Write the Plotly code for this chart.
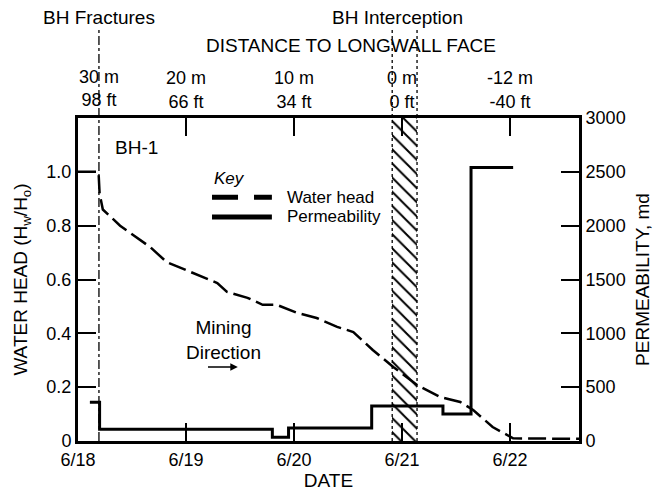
import plotly.graph_objects as go

# ---- data (days after 6/18) ----
head_days = [0.0, 0.19, 0.20, 0.23, 0.39, 0.60, 0.67, 0.82, 1.07, 1.29, 1.38, 1.57,
             1.71, 1.84, 2.03, 2.21, 2.40, 2.55, 2.73, 2.92, 3.14, 3.35, 3.54, 3.66,
             3.84, 4.03, 4.64]
head_vals = [1.0, 1.0, 0.92, 0.86, 0.80, 0.74, 0.72, 0.665, 0.625, 0.587, 0.554, 0.532,
             0.506, 0.506, 0.476, 0.457, 0.424, 0.405, 0.338, 0.275, 0.208, 0.164, 0.145, 0.115,
             0.052, 0.01, 0.008]

perm_days = [0.11, 0.20, 1.80, 1.95, 2.72, 3.38, 3.64, 4.03]
perm_vals = [360, 110, 35, 120, 325, 250, 2540, 2540]

fracture_day = 0.194
interception_days = [2.91, 3.14]

date_ticks = [0, 1, 2, 3, 4]
date_labels = ["6/18", "6/19", "6/20", "6/21", "6/22"]

dist_ticks = [1, 2, 3, 4]
dist_labels = ["20 m<br>66 ft", "10 m<br>34 ft", "0 m<br>0 ft", "-12 m<br>-40 ft"]
first_dist_label = "30 m<br>98 ft"

head_ticks = [0, 0.2, 0.4, 0.6, 0.8, 1.0]
head_labels = ["0", "0.2", "0.4", "0.6", "0.8", "1.0"]
perm_ticks = [0, 500, 1000, 1500, 2000, 2500, 3000]

series_names = ["Water head", "Permeability"]

x_range = [0, 4.64]
FONT = "Liberation Sans, Arial, Helvetica, sans-serif"
TF = 18
LF = 19
KF = 17

fig = go.Figure()

# hatched band (borehole interception)
band_mid = (interception_days[0] + interception_days[1]) / 2
band_w = interception_days[1] - interception_days[0]
fig.add_trace(go.Bar(
    x=[band_mid], y=[1.2], width=[band_w], base=[0],
    marker=dict(color="white", line=dict(width=0),
                pattern=dict(shape="\\", fgcolor="black", bgcolor="white",
                             fgopacity=1, size=10, solidity=0.2)),
    showlegend=False, hoverinfo="skip"))

fig.add_trace(go.Scatter(
    x=head_days, y=head_vals, mode="lines", name=series_names[0],
    line=dict(color="black", width=2.5, dash="18px,6px"),
    showlegend=False))

fig.add_trace(go.Scatter(
    x=perm_days, y=perm_vals, mode="lines", yaxis="y2", name=series_names[1],
    line=dict(color="black", width=3, shape="hv"),
    showlegend=False))

# dummy trace to activate top axis
fig.add_trace(go.Scatter(x=[None], y=[None], xaxis="x2", showlegend=False))

axis_common = dict(showline=True, linecolor="black", linewidth=3, ticks="inside",
                   ticklen=18, tickwidth=1.5, tickcolor="black", showgrid=False,
                   zeroline=False, automargin=False,
                   tickfont=dict(family=FONT, size=TF, color="black"))

fig.update_layout(
    width=667, height=493,
    margin=dict(l=78, r=88, t=118, b=52, autoexpand=False),
    plot_bgcolor="white", paper_bgcolor="white",
    font=dict(family=FONT, size=LF, color="black"),
    xaxis=dict(range=x_range, tickvals=date_ticks, ticktext=date_labels,
               title=dict(text="DATE", standoff=4, font=dict(size=LF)), **axis_common),
    xaxis2=dict(range=x_range, overlaying="x", side="top", tickvals=dist_ticks,
                ticktext=dist_labels, **axis_common),
    yaxis=dict(range=[0, 1.2], tickvals=head_ticks, ticktext=head_labels,
               title=dict(text="WATER HEAD (H<sub>w</sub>/H<sub>o</sub>)", standoff=14,
                          font=dict(size=LF)), **axis_common),
    yaxis2=dict(range=[0, 3000], tickvals=perm_ticks, overlaying="y", side="right",
                title=dict(text="PERMEABILITY, md", standoff=12, font=dict(size=LF)),
                **axis_common),
    bargap=0,
    showlegend=False,
)

# vertical event lines
fig.add_shape(type="line", xref="x", yref="paper", x0=fracture_day, x1=fracture_day,
              y0=0, y1=1.279, line=dict(color="black", width=1.3, dash="dashdot"))
for d in interception_days:
    fig.add_shape(type="line", xref="x", yref="paper", x0=d, x1=d,
                  y0=0, y1=1.279, line=dict(color="black", width=1.3, dash="dot"))

# key (legend) drawn as sample lines + labels
key_x0, key_x1, key_text_x = 0.2675, 0.387, 0.413
key_rows = [0.755, 0.6935]
fig.add_shape(type="line", xref="paper", yref="paper", x0=key_x0, x1=key_x1,
              y0=key_rows[0], y1=key_rows[0],
              line=dict(color="black", width=5, dash="26px,16px"))
fig.add_shape(type="line", xref="paper", yref="paper", x0=key_x0, x1=key_x1,
              y0=key_rows[1], y1=key_rows[1], line=dict(color="black", width=5))
for name, yy in zip(series_names, key_rows):
    fig.add_annotation(text=name, x=key_text_x, y=yy, xref="paper", yref="paper",
                       xanchor="left", yanchor="middle", showarrow=False,
                       font=dict(size=KF))
fig.add_annotation(text="<i>Key</i>", x=key_x0, y=0.814, xref="paper", yref="paper",
                   xanchor="left", yanchor="middle", showarrow=False, font=dict(size=KF))

ann = [
    dict(text="BH Fractures", x=fracture_day, xref="x", y=1.3096, yref="paper",
         yanchor="middle", xanchor="center", showarrow=False),
    dict(text="BH Interception", x=band_mid - 0.07, xref="x", y=1.3096, yref="paper",
         yanchor="middle", xanchor="center", showarrow=False),
    dict(text="DISTANCE TO LONGWALL FACE", x=0.545, xref="paper", y=1.223, yref="paper",
         yanchor="middle", xanchor="center", showarrow=False),
    dict(text=first_dist_label, x=fracture_day, xref="x", y=1.0, yref="paper",
         yanchor="bottom", xanchor="center", yshift=6, showarrow=False,
         font=dict(size=TF)),
    dict(text="BH-1", x=0.32, xref="x", y=1.09, yref="y", xanchor="left",
         yanchor="middle", showarrow=False),
    dict(text="Mining<br>Direction", x=1.35, xref="x", y=0.377, yref="y",
         xanchor="center", yanchor="middle", showarrow=False),
    dict(text="", x=1.48, y=0.275, xref="x", yref="y", ax=1.19, ay=0.275,
         axref="x", ayref="y", showarrow=True, arrowhead=2, arrowsize=1,
         arrowwidth=1.5, arrowcolor="black"),
]
for a in ann:
    fig.add_annotation(**a)

fig.write_html("out.html", config={"displayModeBar": False},
               post_script="document.body.style.margin='0';document.body.style.overflow='hidden';")
